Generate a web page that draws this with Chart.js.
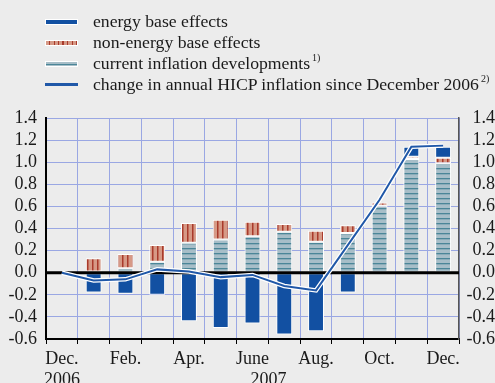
<!DOCTYPE html>
<html>
<head>
<meta charset="utf-8">
<script src="https://cdn.jsdelivr.net/npm/chart.js@4/dist/chart.umd.min.js"></script>
<style>
  html, body { margin: 0; padding: 0; background: #ececec; }
  #wrap { position: relative; width: 495px; height: 383px; }
  #chart { position: absolute; left: 0; top: 0; }
  #legend { position: absolute; left: 45px; top: 11px; font-family: "Liberation Serif", serif; font-size: 17.7px; color: #1a1a1a; }
  .row { height: 21px; line-height: 21px; display: flex; align-items: center; white-space: nowrap; }
  .sw { width: 33px; height: 6px; margin-right: 15px; box-sizing: border-box; }
  .sw.energy { background: #1250a2; border: 1px solid #fff; }
  .sw.nonenergy { background: repeating-linear-gradient(90deg, #d69986 0 3px, #a93a2b 3px 4.5px); border: 1px solid #fff; }
  .sw.current { background: linear-gradient(#a7bec8 0 2px, #4b8698 2px 3px, #a7bec8 3px); border: 1px solid #fff; }
  .sw.line { height: 3px; background: #2058a8; }
  .sup { font-size: 10px; position: relative; top: -6px; margin-left: 2px; }
</style>
</head>
<body>
<div id="wrap">
  <canvas id="chart" width="495" height="383"></canvas>
  <div id="legend">
    <div class="row"><div class="sw energy"></div>energy base effects</div>
    <div class="row"><div class="sw nonenergy"></div>non-energy base effects</div>
    <div class="row"><div class="sw current"></div>current inflation developments<span class="sup">1)</span></div>
    <div class="row"><div class="sw line"></div>change in annual HICP inflation since December 2006<span class="sup">2)</span></div>
  </div>
</div>
<script>
// months Dec 2006 .. Dec 2007
const months = ['Dec.', 'Jan.', 'Feb.', 'Mar.', 'Apr.', 'May', 'June', 'July', 'Aug.', 'Sep.', 'Oct.', 'Nov.', 'Dec.'];
const tickLabels = ['Dec.', '', 'Feb.', '', 'Apr.', '', 'June', '', 'Aug.', '', 'Oct.', '', 'Dec.'];
const years = ['2006', '2007'];

// contributions, percentage points
const currentDev = [null, 0.01, 0.04, 0.10, 0.27, 0.30, 0.33, 0.37, 0.28, 0.36, 0.605, 1.03, 0.99];
const nonEnergyBase = [null, 0.12, 0.13, 0.15, 0.18, 0.18, 0.13, 0.07, 0.10, 0.07, 0.03, 0.02, 0.05];
const energyBase = [null, -0.18, -0.19, -0.20, -0.44, -0.50, -0.46, -0.56, -0.53, -0.18, 0, 0.09, 0.10];
const hicpChange = [0, -0.07, -0.06, 0.03, 0.01, -0.04, -0.02, -0.12, -0.16, 0.25, 0.66, 1.14, 1.15];

const canvas = document.getElementById('chart');
const ctx = canvas.getContext('2d');

function stripes(bg, fg, vertical) {
    const c = document.createElement('canvas');
    c.width = 5; c.height = 5;
    const g = c.getContext('2d');
    g.fillStyle = bg;
    g.fillRect(0, 0, 5, 5);
    g.fillStyle = fg;
    if (vertical) g.fillRect(2, 0, 1.5, 5);
    else g.fillRect(0, 3, 5, 1.3);
    return ctx.createPattern(c, 'repeat');
}

const FONT = { family: 'Liberation Serif', size: 18 };
const gridBlue = '#9aa7e3';

// black zero line, drawn over the bars but under the HICP line
const zeroLine = {
    id: 'zeroLine',
    beforeDatasetDraw(chart, args) {
        if (args.index !== 3) return;
        const y = chart.scales.y.getPixelForValue(0);
        const a = chart.chartArea;
        const c = chart.ctx;
        c.save();
        c.strokeStyle = '#000';
        c.lineWidth = 3;
        c.beginPath();
        c.moveTo(a.left, y);
        c.lineTo(a.right, y);
        c.stroke();
        c.restore();
    }
};

// year labels under the month ticks
const yearLabels = {
    id: 'yearLabels',
    afterDraw(chart) {
        const x = chart.scales.x;
        const c = chart.ctx;
        const y = x.top + 5 + 4 + 21.6 * 1.5;
        c.save();
        c.font = '18px "Liberation Serif"';
        c.fillStyle = '#1a1a1a';
        c.textAlign = 'center';
        c.textBaseline = 'middle';
        c.fillText(years[0], x.getPixelForValue(0), y);
        c.fillText(years[1], (x.getPixelForValue(6) + x.getPixelForValue(7)) / 2, y);
        c.restore();
    }
};

const barStyle = { borderColor: '#fff', borderWidth: 1, borderSkipped: false, barPercentage: 0.5, categoryPercentage: 1, order: 3 };

new Chart(ctx, {
    type: 'bar',
    data: {
        labels: months,
        datasets: [
            Object.assign({ label: 'current inflation developments', data: currentDev, backgroundColor: stripes('#a7bec8', '#4b8698', false) }, barStyle),
            Object.assign({ label: 'non-energy base effects', data: nonEnergyBase, backgroundColor: stripes('#d69986', '#a93a2b', true) }, barStyle),
            Object.assign({ label: 'energy base effects', data: energyBase, backgroundColor: '#1250a2' }, barStyle),
            { type: 'line', label: 'outline', data: hicpChange, yAxisID: 'y2', borderColor: '#ffffff', borderWidth: 4.5, pointRadius: 0, tension: 0, order: 2 },
            { type: 'line', label: 'change in annual HICP inflation since December 2006', data: hicpChange, yAxisID: 'y2', borderColor: '#2058a8', borderWidth: 2, pointRadius: 0, tension: 0, order: 1 }
        ]
    },
    options: {
        responsive: false,
        animation: false,
        layout: { padding: { top: 118, left: 0, right: 0, bottom: 0 } },
        plugins: { legend: { display: false }, tooltip: { enabled: false } },
        scales: {
            x: {
                stacked: true,
                grid: { color: gridBlue, lineWidth: 1, offset: true, tickColor: '#000', tickLength: 5 },
                border: { color: '#000', width: 2 },
                ticks: {
                    font: FONT, color: '#1a1a1a', padding: 4, maxRotation: 0, autoSkip: false,
                    callback: (v, i) => tickLabels[i]
                },
                afterFit: s => { s.height = 44; }
            },
            y: {
                stacked: true,
                min: -0.6, max: 1.4,
                grid: { color: gridBlue, lineWidth: 1, drawTicks: false },
                border: { color: '#000', width: 2 },
                ticks: { stepSize: 0.2, autoSkip: false, font: FONT, color: '#1a1a1a', padding: 9, callback: v => v.toFixed(1) },
                afterFit: s => { s.width = 46; }
            },
            y2: {
                position: 'right',
                min: -0.6, max: 1.4,
                grid: { display: false, drawTicks: false },
                border: { color: '#555', width: 1.5 },
                ticks: { stepSize: 0.2, autoSkip: false, crossAlign: 'far', font: FONT, color: '#1a1a1a', padding: 4, callback: v => v.toFixed(1) },
                afterFit: s => { s.width = 36; }
            }
        }
    },
    plugins: [zeroLine, yearLabels]
});
</script>
</body>
</html>
